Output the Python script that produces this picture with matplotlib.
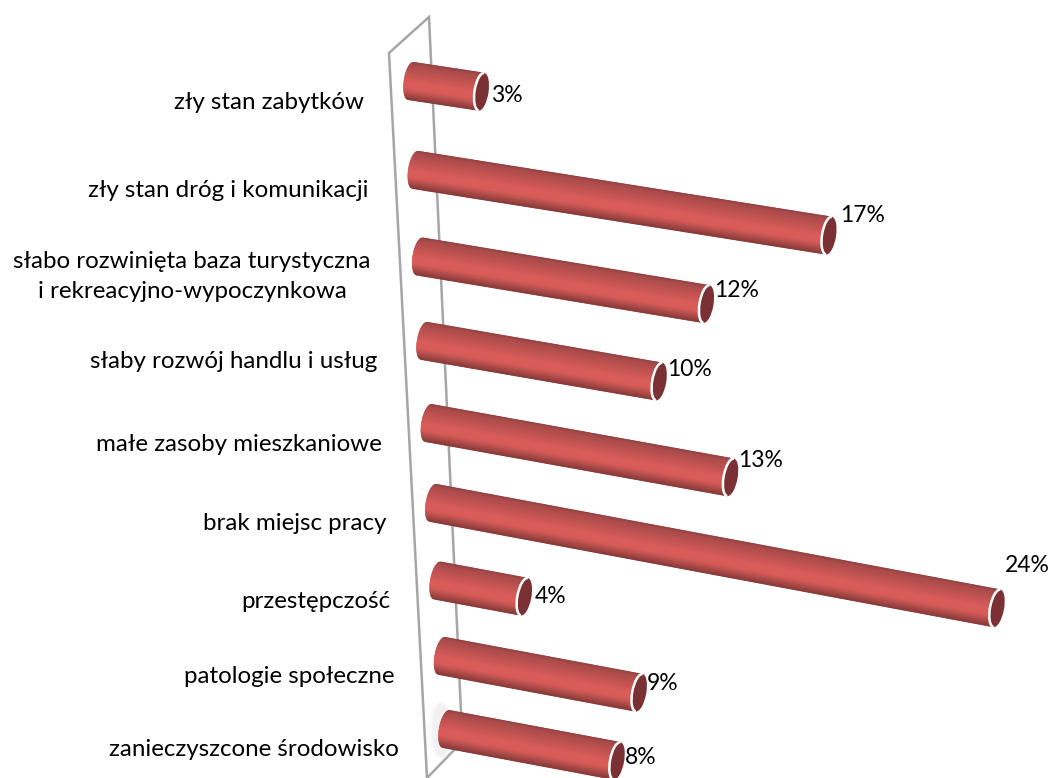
import numpy as np
import matplotlib
matplotlib.use("Agg")
import matplotlib.pyplot as plt
from matplotlib.collections import PolyCollection
from matplotlib.colors import LinearSegmentedColormap
from matplotlib.patches import Ellipse, Arc

categories = ["zły stan zabytków", "zły stan dróg i komunikacji",
              "słabo rozwinięta baza turystyczna\ni rekreacyjno-wypoczynkowa",
              "słaby rozwój handlu i usług", "małe zasoby mieszkaniowe",
              "brak miejsc pracy", "przestępczość", "patologie społeczne",
              "zanieczyszcone środowisko"]
values = [3.0, 17.6, 12.2, 10.0, 12.85, 24.0, 3.7, 8.4, 7.27]
value_labels = ["3%", "17%", "12%", "10%", "13%", "24%", "4%", "9%", "8%"]
label_dx = [10, 11, 8, 8, 8, 8, 10, 8, 8]
label_dy = [4, -20, -14, -12, -17, -43, 0, -9, -3]

plt.rcParams["font.family"] = ["Lato", "DejaVu Sans"]
fig = plt.figure(figsize=(10.5, 7.78), dpi=100)
ax = fig.add_axes([0, 0, 1, 1])
ax.set_xlim(0, 1050)
ax.set_ylim(778, 0)
ax.axis("off")

PX_PER_UNIT = 23.5
R = 19.0
B = 7.0
cmap = LinearSegmentedColormap.from_list("cyl", [
    (0.00, "#8f3f3d"), (0.08, "#a9494a"), (0.30, "#c05250"), (0.55, "#d95c59"),
    (0.72, "#d85b58"), (0.87, "#ad4a48"), (1.00, "#873937")])

# back wall
wall_x = [461, 429, 389, 427, 460]
wall_y = [712, 17, 53, 778, 744]
ax.plot(wall_x, wall_y, color="#a6a6a6", lw=1.8, zorder=1, solid_joinstyle="miter")

# soft shadow by the last bar
for w, a in zip((26, 18), (0.05, 0.07)):
    ax.add_patch(Ellipse((441, 730), w, 55, color="#9a9a9a", alpha=a, lw=0, zorder=1.5))


def row_y(i):
    return 81 + 90 * i - 1.125 * i * i


for i, (cat, val, lab, dx, dy) in enumerate(zip(categories, values, value_labels, label_dx, label_dy)):
    slope = min(0.187, 0.152 + 0.007 * i)
    sx, sy = 411 + 4.4 * i, row_y(i)
    ex, ey = sx + val * PX_PER_UNIT, sy + val * PX_PER_UNIT * slope
    u = np.array([1, slope]) / np.hypot(1, slope)
    n = np.array([-u[1], u[0]])
    S, E = np.array([sx, sy]), np.array([ex, ey])

    ts = np.linspace(-1, 1, 61)
    polys, cols = [], []
    for t0, t1 in zip(ts[:-1], ts[1:]):
        def pt(base, t):
            return base + t * R * n - np.sqrt(max(0, 1 - t * t)) * B * u
        polys.append([pt(S, t0), pt(E, t0), pt(E, t1), pt(S, t1)])
        cols.append(cmap((0.5 * (t0 + t1) + 1) / 2))
    ax.add_collection(PolyCollection(polys, facecolors=cols, edgecolors=cols, linewidths=0.4, zorder=3))

    ang = np.degrees(np.arctan(slope))
    ax.add_patch(Ellipse(E, 2 * B, 2 * R, angle=ang, facecolor="#7b3133", edgecolor="none", zorder=4))
    ax.add_patch(Arc(E, 2 * B, 2 * R, angle=ang, theta1=90, theta2=270, color="white", lw=1.8, zorder=5))

    if "\n" in cat:
        ax.text(192, sy + 20, cat, ha="center", va="center", fontsize=17.4, color="black",
                linespacing=1.55, multialignment="center", zorder=6)
    else:
        ax.text(364 + 4.4 * i, sy + 21, cat, ha="right", va="center", fontsize=17.4,
                color="black", zorder=6)
    ax.text(ex + dx, ey + dy, lab, ha="left", va="center", fontsize=16.5, color="black", zorder=6)

fig.savefig("out.png", dpi=100, facecolor="white")
